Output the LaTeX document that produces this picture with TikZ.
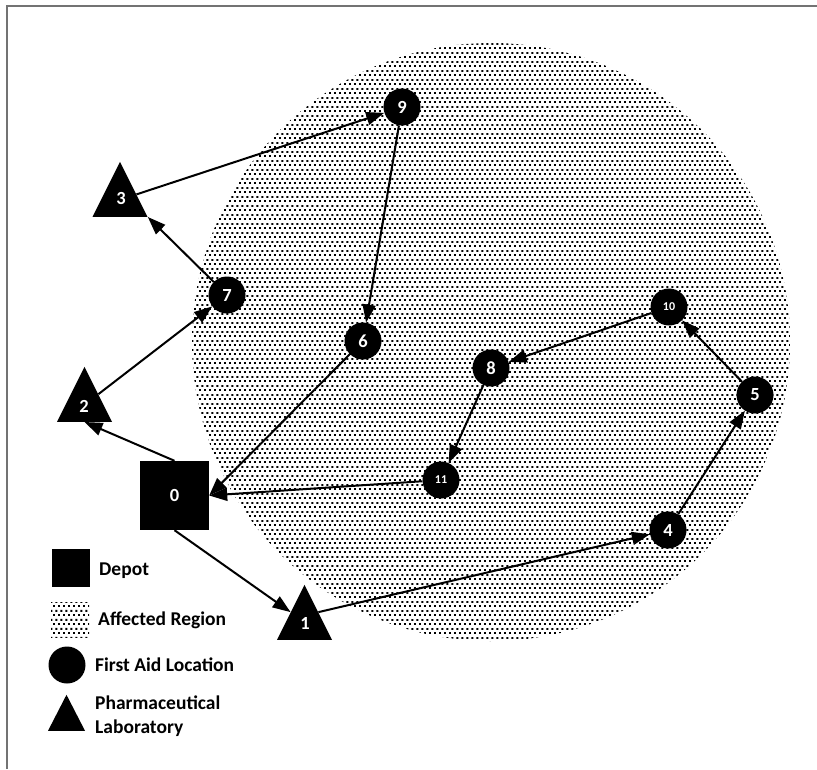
\documentclass[tikz,border=0pt]{standalone}
\usepackage{fontspec}
\setmainfont{Carlito}
\usetikzlibrary{arrows.meta,shapes.geometric,patterns.meta}

% staggered dot texture for the affected region
\pgfdeclarepattern{
  name=regiondots,
  type=uncolored,
  bottom left={\pgfpoint{0pt}{0pt}},
  top right={\pgfpoint{5.4pt}{9pt}},
  tile size={\pgfpoint{5.4pt}{9pt}},
  code={
    \pgfpathrectangle{\pgfpoint{0pt}{0pt}}{\pgfpoint{2.1pt}{2.1pt}}
    \pgfpathrectangle{\pgfpoint{2.7pt}{4.5pt}}{\pgfpoint{2.1pt}{2.1pt}}
    \pgfusepath{fill}
  }
}

\tikzset{
  frameline/.style={draw=black!55, line width=1.5pt},
  region/.style={pattern=regiondots, pattern color=black},
  depot/.style={rectangle, fill=black, minimum size=69pt, inner sep=0pt,
    text=white, font=\fontsize{18.5pt}{20pt}\selectfont\bfseries},
  aid/.style={circle, fill=black, minimum size=37pt, inner sep=0pt,
    text=white, font=\fontsize{18.5pt}{20pt}\selectfont\bfseries},
  aidsmall/.style={aid, font=\fontsize{12pt}{14pt}\selectfont\bfseries},
  lab/.style={isosceles triangle, shape border rotate=90,
    isosceles triangle stretches, fill=black, inner sep=0pt,
    minimum width=55pt, minimum height=55pt, anchor=lower side},
  labnum/.style={text=white, inner sep=0pt,
    font=\fontsize{18.5pt}{20pt}\selectfont\bfseries},
  route/.style={draw=black, line width=2pt,
    -{Triangle[length=18pt,width=13pt]}},
  legtext/.style={anchor=base west, inner sep=0pt,
    font=\fontsize{19.5pt}{24pt}\selectfont\bfseries},
}

\begin{document}
\begin{tikzpicture}[x=1pt,y=-1pt]
\useasboundingbox (0,0) rectangle (817,769);

% outer frame (top and left edges)
\draw[frameline] (7,769) -- (7,6) -- (817,6);

% affected region
\fill[region] (491,342) circle[radius=299pt];

% depot
\node[depot] (n0) at (174.5,495.5) {0};

% pharmaceutical laboratories
\node[lab] (t1) at (304.5,640) {};
\node[labnum] (l1) at (305,623) {1};
\node[lab] (t2) at (84.5,422) {};
\node[labnum] (l2) at (84,406) {2};
\node[lab] (t3) at (120,217) {};
\node[labnum] (l3) at (121,198) {3};

% first aid locations
\node[aid] (n4) at (668,530) {4};
\node[aid] (n5) at (755,395) {5};
\node[aid] (n6) at (363,341) {6};
\node[aid] (n7) at (227,295) {7};
\node[aid] (n8) at (491,368) {8};
\node[aid] (n9) at (402,107) {9};
\node[aidsmall] (n10) at (669,307) {10};
\node[aidsmall] (n11) at (441,480) {11};

% routes
\draw[route] (n0.north) -- (t2.lower side);
\draw[route] (t2.right side) -- (n7);
\draw[route] (n7) -- (t3.right corner);
\draw[route] (t3) -- (n9);
\draw[route] (n9) -- (n6);
\draw[route] (n6) -- (n0.east);
\draw[route] (n0.south) -- (t1.left side);
\draw[route] (t1.right side) -- (n4);
\draw[route] (n4) -- (n5);
\draw[route] (n5) -- (n10);
\draw[route] (n10) -- (n8);
\draw[route] (n8) -- (n11);
\draw[route] (n11) -- (n0.east);

% legend
\node[depot, minimum size=38pt] (kdepot) at (70.5,568) {};
\node[rectangle, region, minimum width=38pt, minimum height=35pt, inner sep=0pt] (kregion) at (70,619.5) {};
\node[aid] (kaid) at (67,665) {};
\node[lab, minimum width=37pt, minimum height=36pt] (klab) at (66.5,731) {};

\node[legtext] (tdepot) at (99,575) {Depot};
\node[legtext] (tregion) at (98,625) {Affected Region};
\node[legtext] (taid) at (95,671) {First Aid Location};
\node[legtext] (tlab1) at (95,709) {Pharmaceutical};
\node[legtext] (tlab2) at (95,733) {Laboratory};
\end{tikzpicture}
\end{document}
